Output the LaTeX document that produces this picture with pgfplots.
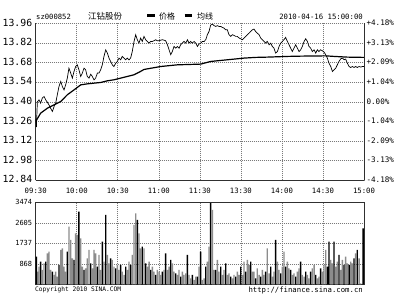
\documentclass[border=0pt]{standalone}
\usepackage{pgfplots}
\pgfplotsset{compat=1.18}
\usepackage{fontspec}
\newfontfamily\monofont{DejaVu Sans Mono}
\newfontfamily\cjk{Noto Sans CJK SC}
\definecolor{axc}{HTML}{303030}
\definecolor{gridc}{HTML}{7A7A7A}
\definecolor{volgray}{HTML}{8C8C8C}
\begin{document}
\begin{tikzpicture}[x=1pt,y=1pt]
\useasboundingbox (0,0) rectangle (394,297);
\fill[white] (0,0) rectangle (394,297);
% ---------- price panel ----------
\begin{axis}[
  at={(35.7pt,116.6pt)}, anchor=south west, scale only axis,
  width=328.3pt, height=156.9pt,
  xmin=0, xmax=240, ymin=12.84, ymax=13.96,
  axis x line*=bottom, axis y line*=left,
  axis line style={-, draw=axc, line width=0.8pt},
  xtick={0,30,...,240},
  xticklabels={09:30,10:00,10:30,11:00,11:30,13:30,14:00,14:30,15:00},
  ytick={12.84,12.98,13.12,13.26,13.40,13.54,13.68,13.82,13.96},
  yticklabels={12.84,12.98,13.12,13.26,13.40,13.54,13.68,13.82,13.96},
  major tick length=0pt,
  xmajorgrids, ymajorgrids,
  grid style={draw=gridc, line width=0.6pt, dash pattern=on 1pt off 1pt},
  xticklabel style={font=\fontsize{7.3}{8}\monofont, yshift=-4pt},
  yticklabel style={font=\fontsize{9.8}{10}\monofont, yshift=1pt},
]
\addplot[black, line width=0.7pt] coordinates {
(0,13.28)(0.5,13.22)(1.2,13.40)(2.4,13.415)(3.6,13.391)(4.8,13.427)(6.1,13.439)(7.3,13.415)(8.5,13.398)(9.7,13.379)
(10.9,13.355)(12.2,13.332)(13.4,13.367)(14.6,13.391)(15.8,13.451)(17.0,13.510)(18.3,13.546)(19.5,13.510)(20.7,13.486)(21.9,13.522)
(23.1,13.570)(24.3,13.641)(25.6,13.606)(26.8,13.570)(28.0,13.618)(29.2,13.653)(30.4,13.665)(31.6,13.630)(32.9,13.582)(34.1,13.606)
(35.3,13.641)(36.5,13.630)(37.7,13.582)(39.0,13.570)(40.2,13.598)(41.4,13.582)(42.6,13.558)(43.8,13.570)(45.1,13.606)(46.3,13.606)
(47.5,13.630)(48.7,13.665)(49.9,13.725)(51.2,13.772)(52.4,13.749)(53.6,13.713)(54.8,13.689)(56.0,13.665)(57.2,13.653)(58.5,13.677)
(59.7,13.689)(60.9,13.713)(62.1,13.701)(63.3,13.725)(64.6,13.713)(65.8,13.701)(67.0,13.713)(68.2,13.701)(69.4,13.713)(70.6,13.760)
(71.9,13.832)(73.1,13.880)(74.3,13.844)(75.5,13.820)(76.7,13.856)(77.9,13.832)(79.2,13.868)(80.4,13.844)(81.6,13.832)(82.9,13.820)
(84.1,13.832)(85.3,13.832)(86.5,13.837)(87.7,13.844)(88.9,13.837)(90.2,13.837)(91.4,13.841)(92.6,13.844)(93.8,13.841)(95.0,13.837)
(96.3,13.808)(97.5,13.772)(98.7,13.737)(99.9,13.760)(101.1,13.796)(102.4,13.784)(103.6,13.796)(104.8,13.784)(106.0,13.808)(107.2,13.820)
(108.4,13.832)(109.7,13.820)(110.9,13.844)(112.1,13.820)(113.3,13.832)(114.5,13.820)(115.8,13.832)(117.0,13.820)(118.2,13.796)(119.4,13.813)
(120.6,13.820)(121.8,13.832)(123.1,13.832)(124.3,13.844)(125.5,13.880)(126.7,13.903)(127.9,13.948)(129.2,13.955)(130.4,13.945)(131.6,13.939)
(132.8,13.945)(134.0,13.939)(135.3,13.939)(136.5,13.932)(137.7,13.927)(138.9,13.915)(140.1,13.915)(141.3,13.880)(142.6,13.868)(143.8,13.880)
(145.0,13.875)(146.2,13.868)(147.4,13.868)(148.7,13.856)(149.9,13.851)(151.1,13.844)(152.3,13.856)(153.5,13.868)(154.7,13.880)(156.0,13.891)
(157.2,13.903)(158.4,13.915)(159.6,13.920)(160.8,13.903)(162.0,13.891)(163.3,13.880)(164.5,13.856)(165.7,13.844)(166.9,13.832)(168.1,13.820)
(169.3,13.832)(170.6,13.808)(171.8,13.820)(173.0,13.796)(174.2,13.784)(175.4,13.749)(176.7,13.760)(177.9,13.796)(179.1,13.820)(180.3,13.832)
(181.5,13.844)(182.7,13.861)(184.0,13.832)(185.2,13.808)(186.4,13.784)(187.6,13.760)(188.8,13.784)(190.1,13.808)(191.3,13.784)(192.5,13.760)
(193.7,13.772)(194.9,13.796)(196.2,13.832)(197.4,13.851)(198.6,13.832)(199.8,13.796)(201.0,13.784)(202.2,13.760)(203.5,13.772)(204.7,13.749)
(205.9,13.772)(207.1,13.760)(208.3,13.772)(209.6,13.765)(210.8,13.756)(212.0,13.737)(213.2,13.713)(214.4,13.677)(215.7,13.653)(216.9,13.617)
(218.1,13.629)(219.3,13.641)(220.5,13.665)(221.7,13.689)(223.0,13.708)(224.2,13.713)(225.4,13.701)(226.6,13.706)(227.8,13.677)(229.1,13.653)
(230.3,13.646)(231.5,13.653)(232.7,13.646)(233.9,13.653)(235.1,13.646)(236.4,13.653)(237.6,13.649)(238.8,13.653)(240,13.653)
};
\addplot[black, line width=1.2pt] coordinates {
(0,13.26)(1.2,13.28)(3.6,13.320)(8.5,13.355)(13.4,13.379)(18.3,13.403)(23.1,13.451)(28.0,13.486)(32.9,13.522)(37.7,13.529)
(42.6,13.534)(47.5,13.539)(52.4,13.551)(57.2,13.558)(62.1,13.570)(67.0,13.582)(71.9,13.594)(76.7,13.618)(79.2,13.632)(91.4,13.653)
(103.6,13.665)(120.6,13.670)(127.9,13.689)(140.1,13.701)(152.3,13.713)(160.8,13.718)(169.3,13.720)(184.0,13.725)(193.7,13.727)(212.0,13.729)
(218.1,13.725)(227.8,13.720)(240,13.718)
};
\end{axis}
% ---------- right percentage scale ----------
\begin{axis}[
  at={(35.7pt,116.6pt)}, anchor=south west, scale only axis,
  width=328.3pt, height=156.9pt,
  xmin=0, xmax=240, ymin=-4.18, ymax=4.18,
  hide x axis, axis y line*=right,
  axis line style={-, draw=axc, line width=0.8pt},
  ytick={-4.18,-3.13,-2.09,-1.04,0,1.04,2.09,3.13,4.18},
  yticklabels={-4.18\%,-3.13\%,-2.09\%,-1.04\%,0.00\%,+1.04\%,+2.09\%,+3.13\%,+4.18\%},
  major tick length=0pt,
  yticklabel style={font=\fontsize{7.6}{8}\monofont, xshift=-1pt, yshift=0.5pt},
]
\end{axis}
% ---------- volume panel ----------
\begin{axis}[
  at={(35.7pt,12.7pt)}, anchor=south west, scale only axis,
  width=328.3pt, height=82pt,
  xmin=0, xmax=240, ymin=0, ymax=3474,
  axis line style={draw=axc, line width=0.8pt},
  xtick={0,30,...,240}, xticklabels={},
  ytick={868,1737,2605,3474}, yticklabels={868,1737,2605,3474},
  major tick length=0pt,
  xmajorgrids, ymajorgrids,
  grid style={draw=gridc, line width=0.6pt, dash pattern=on 1pt off 1pt},
  yticklabel style={font=\fontsize{7}{8}\monofont},
]
\addplot[ybar, bar width=1.0, bar shift=0pt, fill=volgray, draw=none] coordinates {
(1.2,537)(2.4,749)(4.8,608)(6.1,890)(8.5,1314)(9.7,1385)(10.9,608)(13.4,396)(14.6,537)(15.8,325)(18.3,1455)(19.5,1526)(20.7,749)(21.9,537)
(24.3,2444)(25.6,1879)(26.8,1102)(29.2,2162)(30.4,2091)(32.9,1950)(34.1,749)(36.5,678)(37.7,1102)(39.0,1455)(41.4,678)(42.6,1455)(43.8,1314)
(46.3,1243)(47.5,608)(49.9,961)(52.4,1243)(53.6,890)(56.0,1031)(57.2,749)(59.7,820)(60.9,608)(63.3,537)(64.6,396)(67.0,608)(68.2,961)
(70.6,1243)(71.9,2515)(73.1,3010)(75.5,2162)(76.7,1526)(79.2,1526)(81.6,749)(82.9,961)(85.3,749)(86.5,537)(88.9,608)(90.2,537)(91.4,396)
(93.8,608)(96.3,608)(97.5,749)(99.9,890)(101.1,537)(103.6,396)(104.8,608)(107.2,537)(108.4,396)(109.7,466)(112.1,396)(113.3,254)(115.8,184)
(117.0,325)(119.4,749)(121.8,184)(123.1,254)(125.5,961)(126.7,1597)(129.2,3151)(130.4,608)(132.8,1031)(134.0,537)(136.5,396)(137.7,608)
(140.1,396)(141.3,466)(143.8,254)(145.0,396)(147.4,537)(148.7,396)(151.1,396)(152.3,961)(154.7,1031)(156.0,820)(158.4,537)(159.6,537)
(162.0,678)(163.3,396)(165.7,608)(166.9,396)(169.3,1526)(170.6,466)(173.0,325)(174.2,537)(176.7,961)(177.9,608)(180.3,749)(181.5,1385)
(184.0,961)(185.2,678)(187.6,396)(188.8,466)(191.3,537)(192.5,678)(194.9,396)(196.2,325)(198.6,396)(199.8,254)(202.2,678)(203.5,820)
(205.9,254)(207.1,325)(209.6,537)(210.8,820)(212.0,1455)(215.7,1031)(216.9,890)(219.3,749)(220.5,961)(223.0,608)(224.2,1031)(226.6,1173)
(227.8,890)(230.3,961)(231.5,890)(233.9,1314)(236.4,1102)(237.6,42)
};
\addplot[ybar, bar width=1.0, bar shift=0pt, fill=black, draw=none] coordinates {
(0.5,1173)(3.6,961)(7.3,961)(12.2,537)(17.0,820)(23.1,1385)(28.0,1031)(31.6,3080)(35.3,608)(40.2,890)(45.1,749)(48.7,1809)(51.2,2939)
(54.8,1102)(58.5,678)(62.1,820)(65.8,749)(69.4,820)(74.3,2727)(77.9,1597)(80.4,890)(84.1,608)(87.7,396)(92.6,537)(95.0,1314)(98.7,1031)
(102.4,466)(106.0,325)(110.9,1243)(114.5,396)(118.2,325)(120.6,1385)(124.3,749)(127.9,3434)(131.6,608)(135.3,749)(138.9,890)(142.6,325)
(146.2,325)(149.9,749)(153.5,537)(157.2,961)(160.8,254)(164.5,325)(168.1,537)(171.8,749)(175.4,1879)(179.1,466)(182.7,749)(186.4,608)
(190.1,325)(193.7,961)(197.4,537)(201.0,537)(204.7,396)(208.3,678)(213.2,749)(214.4,1809)(218.1,1809)(221.7,1243)(225.4,820)(229.1,820)
(232.7,1102)(235.1,1455)(239.4,2374)
};
\end{axis}
% ---------- header and footer texts ----------
\node[anchor=west, font=\fontsize{7.2}{8}\monofont, inner sep=0pt] at (36,280) {sz000852};
\node[anchor=west, font=\fontsize{8.5}{9}\cjk, inner sep=0pt] at (88,280.3) {江钻股份};
\node[anchor=west, inner sep=0pt] at (147,281.5) {\rule{7.5pt}{2.7pt}};
\node[anchor=west, font=\fontsize{8}{9}\cjk, inner sep=0pt] at (159,280.3) {价格};
\node[anchor=west, inner sep=0pt] at (184.3,281.5) {\rule{7.5pt}{2.7pt}};
\node[anchor=west, font=\fontsize{8}{9}\cjk, inner sep=0pt] at (197,280.3) {均线};
\node[anchor=east, font=\fontsize{7.3}{8}\monofont, inner sep=0pt] at (363,280) {2010-04-16 15:00:00};
\node[anchor=west, font=\fontsize{6.2}{7}\monofont, inner sep=0pt] at (35,7) {Copyright 2010 SINA.COM};
\node[anchor=east, font=\fontsize{7.3}{8}\monofont, inner sep=0pt] at (363,7) {http://finance.sina.com.cn};
\end{tikzpicture}
\end{document}
